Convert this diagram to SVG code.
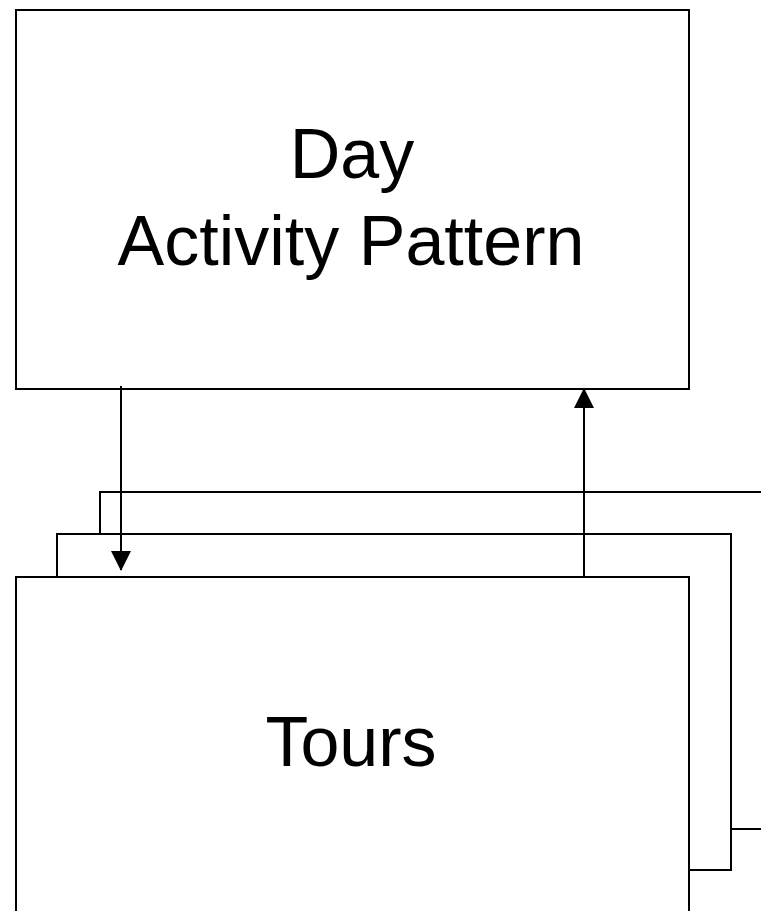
<svg xmlns="http://www.w3.org/2000/svg" width="761" height="911" viewBox="0 0 761 911">
<style>
.box{fill:#fff;stroke:#000;stroke-width:2}
.lbl{font-family:"Liberation Sans",Arial,sans-serif;fill:#000;text-anchor:middle;font-size:70px}
.conn{stroke:#000;stroke-width:2;fill:none}
</style>
<defs>
<marker id="ah" markerUnits="userSpaceOnUse" markerWidth="20" markerHeight="20" viewBox="0 0 20 20" refX="19" refY="10" orient="auto">
<path d="M0,0 L20,10 L0,20 Z" fill="#000"/>
</marker>
</defs>
<rect width="761" height="911" fill="#fff"/>
<g id="day-activity-pattern">
<rect class="box" x="16" y="10" width="673" height="379"/>
<text class="lbl" x="352" y="178">Day</text>
<text class="lbl" x="351" y="264.5">Activity Pattern</text>
</g>
<g id="tours-back2">
<rect class="box" x="100" y="492" width="700" height="337"/>
</g>
<g id="tours-back1">
<rect class="box" x="57" y="534" width="674" height="336"/>
</g>
<g id="tours">
<rect class="box" x="16" y="577" width="673" height="400"/>
<text class="lbl" x="351" y="766">Tours</text>
</g>
<g id="connectors">
<line class="conn" x1="121" y1="386" x2="121" y2="570" marker-end="url(#ah)"/>
<line class="conn" x1="584" y1="577" x2="584" y2="389" marker-end="url(#ah)"/>
</g>
</svg>
